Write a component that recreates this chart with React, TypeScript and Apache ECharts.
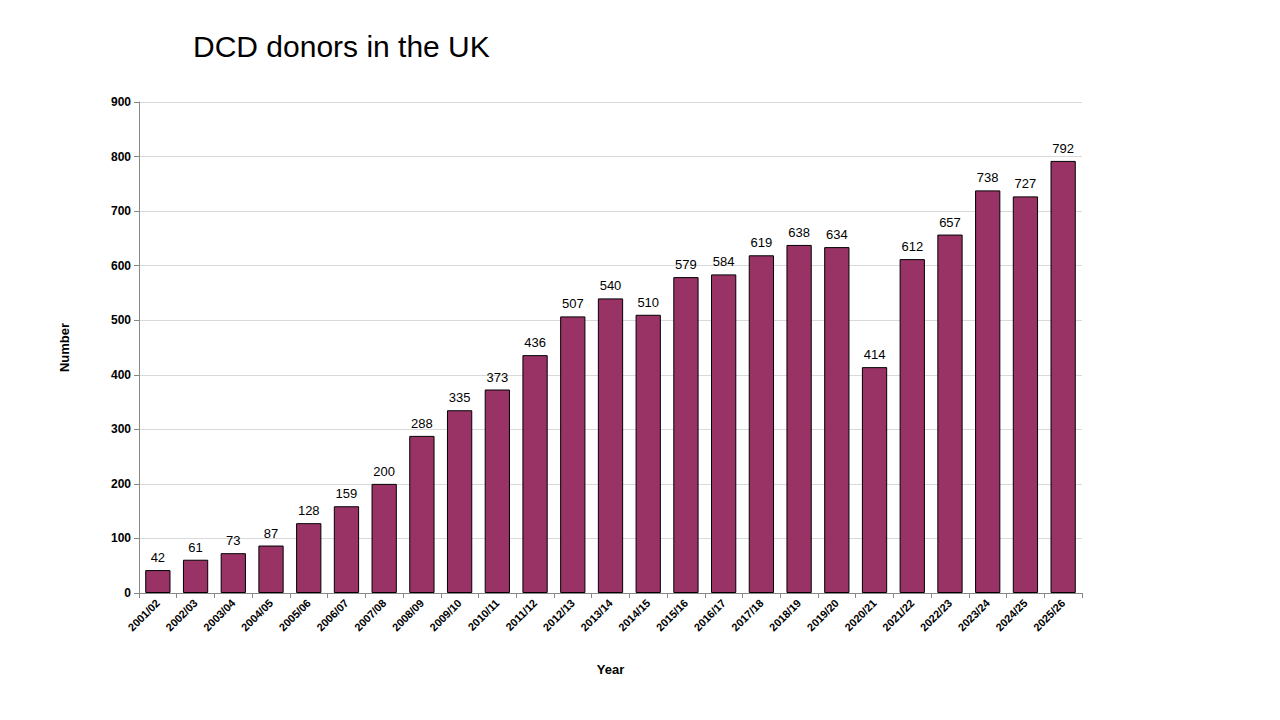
import React, { useEffect, useRef } from "react";
import * as echarts from "echarts";

const categories = ["2001/02","2002/03","2003/04","2004/05","2005/06","2006/07","2007/08","2008/09","2009/10","2010/11","2011/12","2012/13","2013/14","2014/15","2015/16","2016/17","2017/18","2018/19","2019/20","2020/21","2021/22","2022/23","2023/24","2024/25","2025/26"];
const donors = [42,61,73,87,128,159,200,288,335,373,436,507,540,510,579,584,619,638,634,414,612,657,738,727,792];

export default function App() {
  const ref = useRef<HTMLDivElement>(null);
  useEffect(() => {
    const chart = echarts.init(ref.current!, null, { renderer: "svg" });
    chart.setOption({
      animation: false,
      title: { text: "DCD donors in the UK", left: 188, top: 26, textStyle: { fontFamily: "Arial, Liberation Sans", fontSize: 30, fontWeight: "normal", color: "#000" } },
      grid: { left: 139, right: 198, top: 102, bottom: 127 },
      xAxis: {
        type: "category", data: categories,
        name: "Year", nameLocation: "middle", nameGap: 70,
        nameTextStyle: { fontFamily: "Arial, Liberation Sans", fontWeight: "bold", fontSize: 13, color: "#000" },
        axisLine: { lineStyle: { color: "#888" } },
        axisTick: { show: true, alignWithLabel: false, lineStyle: { color: "#888" } },
        axisLabel: { rotate: 45, interval: 0, fontFamily: "Arial, Liberation Sans", fontWeight: "bold", fontSize: 11, color: "#000", margin: 8 },
      },
      yAxis: {
        type: "value", min: 0, max: 900, interval: 100,
        name: "Number", nameLocation: "middle", nameGap: 68,
        nameTextStyle: { fontFamily: "Arial, Liberation Sans", fontWeight: "bold", fontSize: 13, color: "#000" },
        axisLine: { show: true, lineStyle: { color: "#888" } },
        axisTick: { show: true, lineStyle: { color: "#888" } },
        axisLabel: { fontFamily: "Arial, Liberation Sans", fontWeight: "bold", fontSize: 12, color: "#000" },
        splitLine: { lineStyle: { color: "#d9d9d9" } },
      },
      series: [{
        type: "bar", data: donors, barCategoryGap: "33%",
        itemStyle: { color: "#993366", borderColor: "#000", borderWidth: 1 },
        label: { show: true, position: "top", distance: 6, fontFamily: "Arial, Liberation Sans", fontSize: 13, color: "#000" },
      }],
    });
    return () => chart.dispose();
  }, []);
  return <div ref={ref} style={{ position: "fixed", left: 0, top: 0, width: 1280, height: 720, background: "#fff" }} />;
}
